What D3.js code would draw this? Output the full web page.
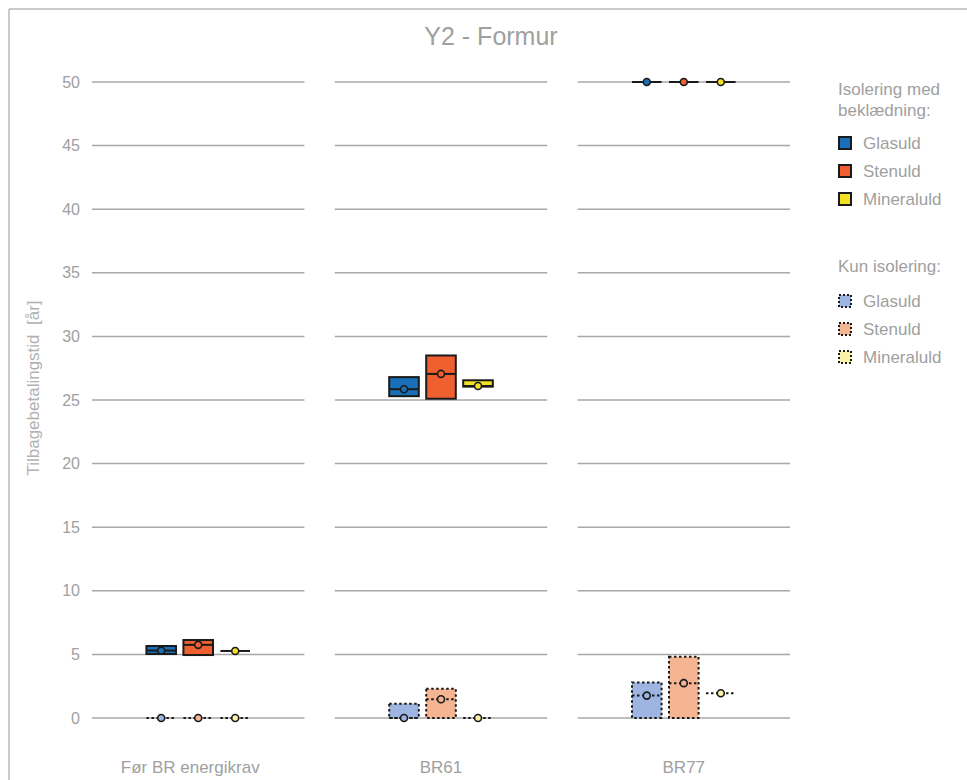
<!DOCTYPE html>
<html><head><meta charset="utf-8">
<script src="https://cdn.jsdelivr.net/npm/d3@7"></script>
<style>body{margin:0;background:#fff;font-family:"Liberation Sans",Arial,sans-serif}</style>
</head><body><svg id="c" width="967" height="780"></svg>
<script>
const categories = ["Før BR energikrav", "BR61", "BR77"];
const materials = ["Glasuld", "Stenuld", "Mineraluld"];
const yTicks = [0, 5, 10, 15, 20, 25, 30, 35, 40, 45, 50];
// Isolering med beklædning: [material][category]
const medLow  = [[5.03, 25.3, 50], [4.95, 25.1, 50], [5.27, 26.05, 50]];
const medHigh = [[5.66, 26.8, 50], [6.13, 28.5, 50], [5.27, 26.55, 50]];
const medMid  = [[5.3, 25.85, 50], [5.75, 27.05, 50], [5.27, 26.1, 50]];
// Kun isolering
const kunLow  = [[0, 0, 0], [0, 0, 0], [0, 0, 1.94]];
const kunHigh = [[0, 1.13, 2.8], [0, 2.3, 4.82], [0, 0, 1.94]];
const kunMid  = [[0, 0, 1.76], [0, 1.47, 2.74], [0, 0, 1.94]];
const darkColors = ["#1a70b8", "#ef5f2f", "#f3e125"];
const lightColors = ["#9db5e0", "#f6b592", "#faf2a6"];

const svg = d3.select("#c");
const txt = "#a0a0a0";

// frame
svg.append("line").attr("x1", 9).attr("x2", 967).attr("y1", 9).attr("y2", 9).attr("stroke", "#b8b8b8").attr("stroke-width", 1.5);
svg.append("line").attr("x1", 9).attr("x2", 9).attr("y1", 9).attr("y2", 780).attr("stroke", "#b8b8b8").attr("stroke-width", 1.5);

svg.append("text").attr("x", 491).attr("y", 45).attr("text-anchor", "middle")
  .attr("font-size", 25).attr("fill", txt).text("Y2 - Formur");

const y = d3.scaleLinear().domain([0, 50]).range([718, 82]);
const x = d3.scaleBand().domain(categories).range([92, 790]).paddingInner(0.125);
const xm = d3.scaleBand().domain(materials).range([-55.5, 55.5]).paddingInner(0.2).paddingOuter(0.1);

// y tick labels
svg.append("g").selectAll("text").data(yTicks).join("text")
  .attr("x", 80).attr("y", d => y(d)).attr("dy", "0.35em").attr("text-anchor", "end")
  .attr("font-size", 16).attr("fill", txt).text(d => d);

// gridlines per panel
categories.forEach(c => {
  svg.append("g").selectAll("line").data(yTicks).join("line")
    .attr("x1", x(c)).attr("x2", x(c) + x.bandwidth())
    .attr("y1", d => y(d)).attr("y2", d => y(d))
    .attr("stroke", "#a8a8a8").attr("stroke-width", 1.5);
  svg.append("text").attr("x", x(c) + x.bandwidth() / 2 - (c === categories[0] ? 8 : 0)).attr("y", 773)
    .attr("text-anchor", "middle").attr("font-size", 17).attr("fill", txt).text(c);
});

svg.append("text").attr("transform", "translate(39,388) rotate(-90)").attr("text-anchor", "middle")
  .attr("font-size", 17).attr("fill", "#b0b0b0").attr("xml:space", "preserve").text("Tilbagebetalingstid  [år]");

function drawSeries(low, high, mid, colors, dash) {
  const g = svg.append("g");
  materials.forEach((m, mi) => {
    categories.forEach((c, ci) => {
      const x0 = x(c) + x.bandwidth() / 2 + xm(m);
      const w = xm.bandwidth();
      const lo = low[mi][ci], hi = high[mi][ci], md = mid[mi][ci];
      if (hi > lo) {
        g.append("rect").attr("x", x0).attr("y", y(hi)).attr("width", w).attr("height", y(lo) - y(hi))
          .attr("fill", colors[mi]).attr("stroke", "#1a1a1a").attr("stroke-width", 2)
          .attr("stroke-dasharray", dash);
      }
      g.append("line").attr("x1", x0).attr("x2", x0 + w).attr("y1", y(md)).attr("y2", y(md))
        .attr("stroke", "#1a1a1a").attr("stroke-width", 2).attr("stroke-dasharray", dash);
      g.append("circle").attr("cx", x0 + w / 2).attr("cy", y(md)).attr("r", 3.5)
        .attr("fill", colors[mi]).attr("stroke", "#1a1a1a").attr("stroke-width", 1.6);
    });
  });
}
drawSeries(medLow, medHigh, medMid, darkColors, null);
drawSeries(kunLow, kunHigh, kunMid, lightColors, "2.5,2.5");

// legend
const lg = svg.append("g").attr("font-size", 17).attr("fill", txt);
lg.append("text").attr("x", 838).attr("y", 95).text("Isolering med");
lg.append("text").attr("x", 838).attr("y", 116).text("beklædning:");
lg.append("text").attr("x", 838).attr("y", 272).text("Kun isolering:");
const rowsMed = [143, 171, 199], rowsKun = [301, 329, 357];
materials.forEach((m, i) => {
  lg.append("rect").attr("x", 839).attr("y", rowsMed[i] - 6).attr("width", 12).attr("height", 12)
    .attr("fill", darkColors[i]).attr("stroke", "#1a1a1a").attr("stroke-width", 2);
  lg.append("text").attr("x", 863).attr("y", rowsMed[i]).attr("dy", "0.35em").text(m);
  lg.append("rect").attr("x", 839).attr("y", rowsKun[i] - 6).attr("width", 12).attr("height", 12)
    .attr("fill", lightColors[i]).attr("stroke", "#1a1a1a").attr("stroke-width", 2).attr("stroke-dasharray", "2,2");
  lg.append("text").attr("x", 863).attr("y", rowsKun[i]).attr("dy", "0.35em").text(m);
});
</script></body></html>
